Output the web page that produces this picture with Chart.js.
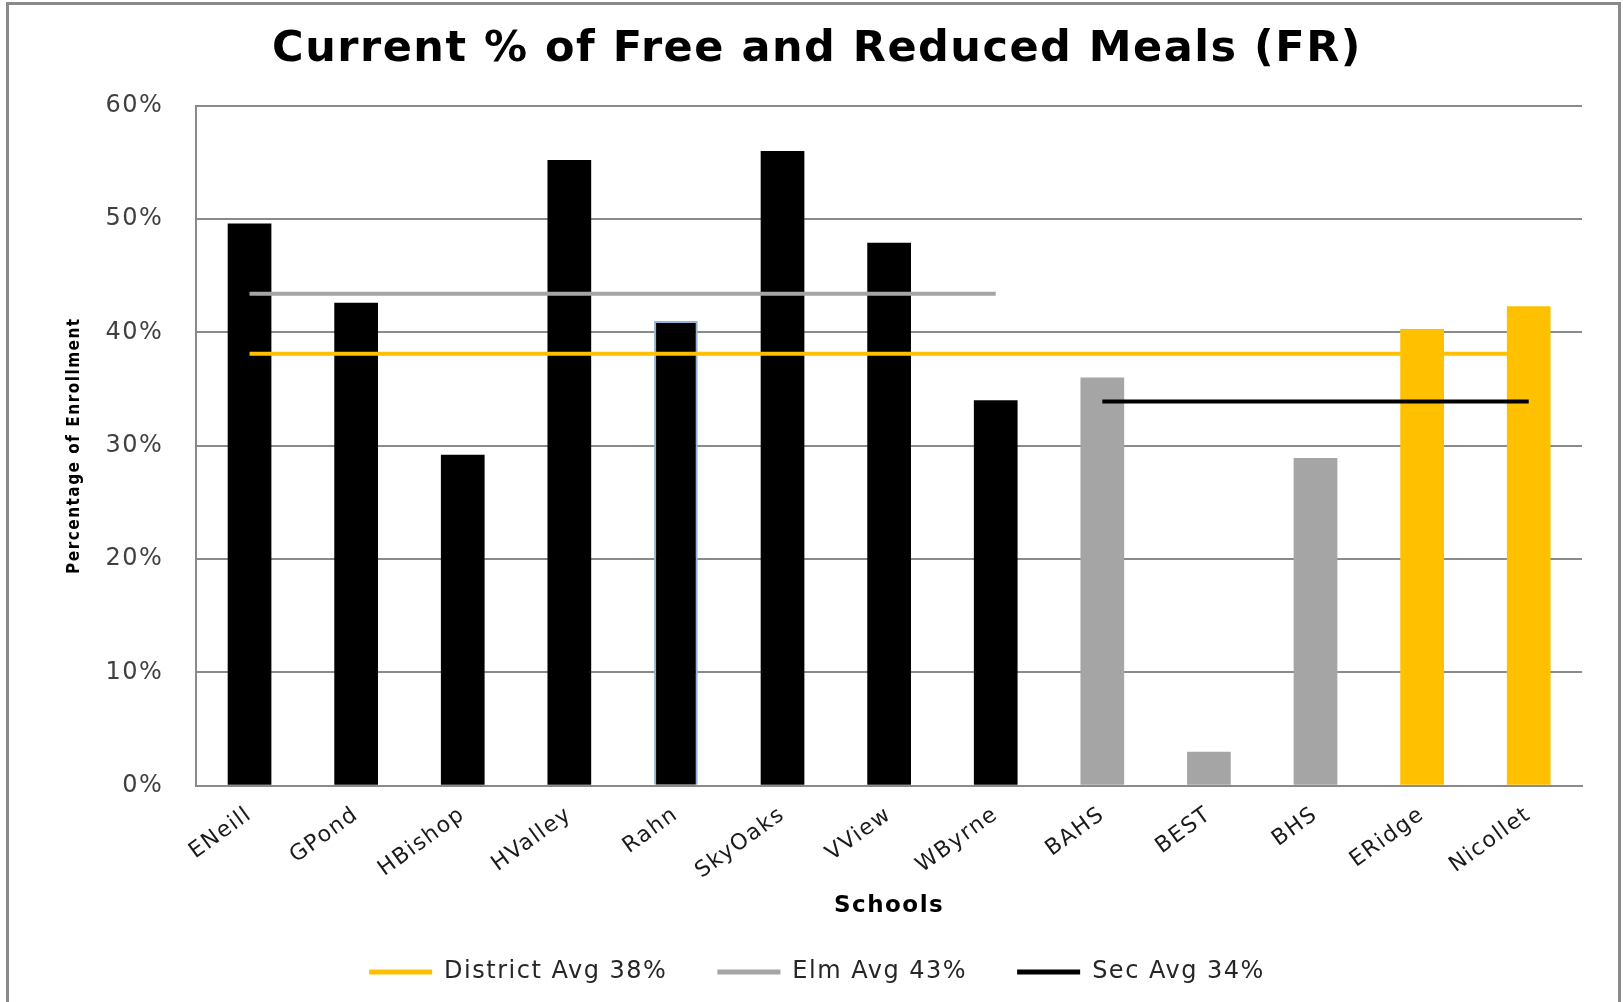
<!DOCTYPE html>
<html>
<head>
<meta charset="utf-8">
<script src="https://cdn.jsdelivr.net/npm/chart.js@4.4.0/dist/chart.umd.min.js"></script>
<style>
  body { margin: 0; background: #fff; }
  #frame { position: absolute; left: 6px; top: 2px; width: 1609px; height: 1100px; border: 3px solid #8a8a8a; }
  #c { position: absolute; left: 0; top: 0; }
</style>
</head>
<body>
<div id="frame"></div>
<canvas id="c" width="1623" height="1002"></canvas>
<script>
const schools = ['ENeill', 'GPond', 'HBishop', 'HValley', 'Rahn', 'SkyOaks', 'VView', 'WByrne', 'BAHS', 'BEST', 'BHS', 'ERidge', 'Nicollet'];
const frPct = [49.6, 42.6, 29.2, 55.2, 41.0, 56.0, 47.9, 34.0, 36.0, 3.0, 28.9, 40.3, 42.3];
const barColors = ['#000000', '#000000', '#000000', '#000000', '#000000', '#000000', '#000000', '#000000',
                   '#a5a5a5', '#a5a5a5', '#a5a5a5', '#ffc000', '#ffc000'];
const districtAvg = [38.1, 38.1, 38.1, 38.1, 38.1, 38.1, 38.1, 38.1, 38.1, 38.1, 38.1, 38.1, 38.1];
const elmAvg = [43.4, 43.4, 43.4, 43.4, 43.4, 43.4, 43.4, 43.4, null, null, null, null, null];
const secAvg = [null, null, null, null, null, null, null, null, 33.9, 33.9, 33.9, 33.9, 33.9];
const yTicks = [0, 10, 20, 30, 40, 50, 60];

const gridGray = '#8a8a8a';
const font = "'DejaVu Sans', sans-serif";

function avgLine(label, data, color) {
    return {
        type: 'line',
        label: label,
        data: data,
        borderColor: color,
        backgroundColor: color,
        borderWidth: 4,
        pointRadius: 0,
        spanGaps: false,
        fill: false
    };
}

// the original text is drawn wide, a bit of letter spacing gets close to it
const wideText = {
    id: 'wideText',
    beforeUpdate(chart) { chart.ctx.letterSpacing = '1.5px'; },
    beforeDraw(chart) { chart.ctx.letterSpacing = '1.5px'; }
};

const ctx = document.getElementById('c');

new Chart(ctx, {
    type: 'bar',
    plugins: [wideText],
    data: {
        labels: schools,
        datasets: [
            avgLine('District Avg 38%', districtAvg, '#ffc000'),
            avgLine('Elm Avg 43%', elmAvg, '#a5a5a5'),
            avgLine('Sec Avg 34%', secAvg, '#000000'),
            {
                type: 'bar',
                label: 'FR',
                data: frPct,
                backgroundColor: barColors,
                borderColor: schools.map(s => s === 'Rahn' ? '#95b3d7' : 'rgba(0,0,0,0)'),
                borderWidth: schools.map(s => s === 'Rahn' ? 2 : 0),
                barPercentage: 0.41,
                categoryPercentage: 1
            }
        ]
    },
    options: {
        responsive: false,
        animation: false,
        layout: { padding: { left: 52, right: 41, top: 10, bottom: 8 } },
        plugins: {
            title: {
                display: true,
                text: 'Current % of Free and Reduced Meals (FR)',
                color: '#000',
                font: { family: font, size: 43, weight: 'bold' },
                padding: { top: 14, bottom: 30 }
            },
            legend: {
                position: 'bottom',
                labels: {
                    boxWidth: 63,
                    boxHeight: 5,
                    padding: 50,
                    color: '#262626',
                    font: { family: font, size: 24 },
                    generateLabels: chart => Chart.defaults.plugins.legend.labels.generateLabels(chart)
                        .filter(item => item.datasetIndex < 3)
                        .map(item => Object.assign(item, { lineWidth: 0 }))
                }
            },
            tooltip: { enabled: false }
        },
        scales: {
            x: {
                grid: { display: false },
                border: { display: true, color: gridGray, width: 2 },
                // rotated first label may hang out to the left, don't let it push the plot
                afterFit: scale => { scale.paddingLeft = 0; scale.paddingRight = 0; },
                ticks: {
                    color: '#1a1a1a',
                    font: { family: font, size: 22 },
                    minRotation: 36,
                    maxRotation: 36,
                    padding: 8
                },
                title: {
                    display: true,
                    text: 'Schools',
                    color: '#000',
                    font: { family: font, size: 23, weight: 'bold' },
                    padding: { top: 0, bottom: -10 }
                }
            },
            y: {
                min: 0,
                max: 60,
                grid: { color: gridGray, lineWidth: 2, drawTicks: false },
                border: { display: true, color: gridGray, width: 2 },
                afterBuildTicks: axis => { axis.ticks = yTicks.map(v => ({ value: v })); },
                ticks: {
                    color: '#404040',
                    font: { family: font, size: 24 },
                    padding: 33,
                    callback: v => v + '%'
                },
                title: {
                    display: true,
                    text: 'Percentage of Enrollment',
                    color: '#000',
                    font: { family: "'DejaVu Sans Condensed', sans-serif", size: 17, weight: 'bold' },
                    // tick padding is counted twice by the fit, take it back here
                    padding: { top: 12, bottom: -12 }
                }
            }
        }
    }
});
</script>
</body>
</html>
